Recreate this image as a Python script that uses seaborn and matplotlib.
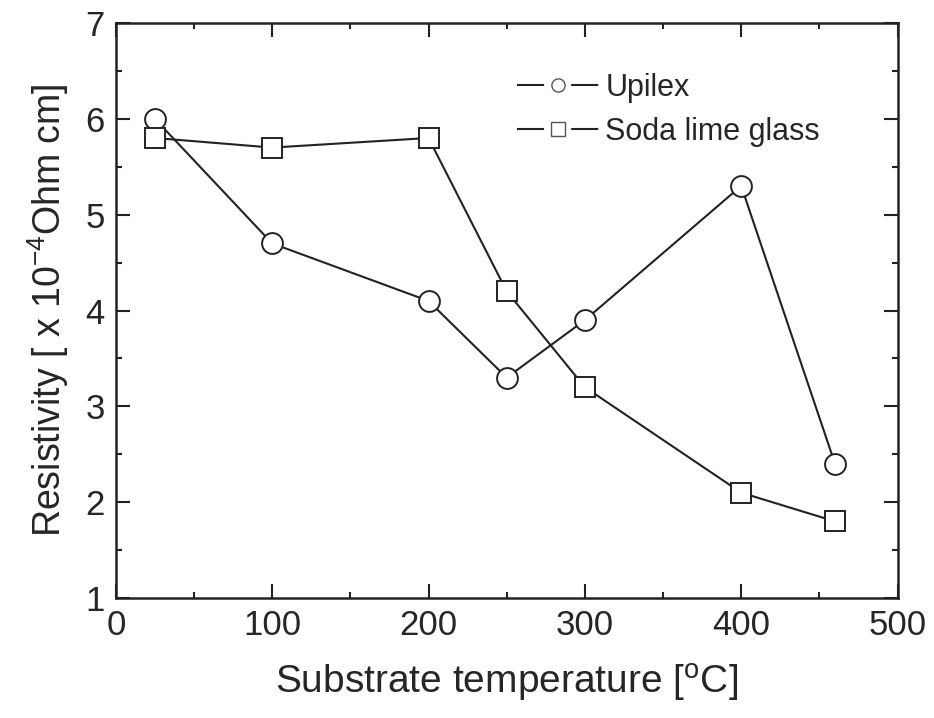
import matplotlib
matplotlib.use("Agg")
import matplotlib.pyplot as plt
from matplotlib.ticker import MultipleLocator
from matplotlib.lines import Line2D
import seaborn as sns
import pandas as pd

temperature = [25, 100, 200, 250, 300, 400, 460]
upilex = [6.0, 4.7, 4.1, 3.3, 3.9, 5.3, 2.4]
soda_lime = [5.8, 5.7, 5.8, 4.2, 3.2, 2.1, 1.8]
series_names = ["Upilex", "Soda lime glass"]

df = pd.concat([
    pd.DataFrame({"T": temperature, "R": upilex, "s": series_names[0]}),
    pd.DataFrame({"T": temperature, "R": soda_lime, "s": series_names[1]}),
])

sns.set_style("ticks")
plt.rcParams['font.family'] = ['Liberation Sans', 'DejaVu Sans']
plt.rcParams['mathtext.fontset'] = 'custom'
plt.rcParams['mathtext.rm'] = 'Liberation Sans'
plt.rcParams['mathtext.it'] = 'Liberation Sans:italic'
plt.rcParams['mathtext.bf'] = 'Liberation Sans:bold'

fig = plt.figure(figsize=(9.34, 7.18), dpi=100)
ax = fig.add_axes([0.124, 0.167, 0.837, 0.801])

sns.lineplot(data=df, x="T", y="R", hue="s", style="s",
             markers={"Upilex": "o", "Soda lime glass": "s"}, dashes=False,
             palette={"Upilex": "#222222", "Soda lime glass": "#222222"},
             markersize=15, markerfacecolor="white", markeredgecolor="#222222",
             markeredgewidth=1.4, linewidth=1.5, ax=ax, legend=False)

for line in ax.lines:
    line.set_markerfacecolor("white")
    line.set_markeredgecolor("#222222")

ax.set_xlim(0, 500)
ax.set_ylim(1, 7)
ax.xaxis.set_major_locator(MultipleLocator(100))
ax.xaxis.set_minor_locator(MultipleLocator(50))
ax.yaxis.set_major_locator(MultipleLocator(1))
ax.yaxis.set_minor_locator(MultipleLocator(0.5))
ax.tick_params(which="both", direction="in", top=True, right=True,
               labelsize=25, width=1.5, color="#222222", pad=8)
ax.tick_params(which="major", length=10)
ax.tick_params(which="minor", length=4)
for sp in ax.spines.values():
    sp.set_linewidth(1.8)
    sp.set_color("#222222")

ax.set_xlabel("Substrate temperature [$^{\\mathrm{o}}$C]", fontsize=28, labelpad=14)
ax.set_ylabel("Resistivity [ x 10$^{\\mathrm{-4}}$Ohm cm]", fontsize=27, labelpad=10)

handles = [
    Line2D([], [], color="#222222", linewidth=1.5, linestyle=(0, (13, 13)),
           marker=m, markersize=9.5, markerfacecolor="white",
           markeredgecolor="#555555", markeredgewidth=1.0)
    for m in ["o", "s"]
]
ax.legend(handles, series_names, loc="upper left", bbox_to_anchor=(0.497, 0.934),
          borderaxespad=0, frameon=False, fontsize=22, handlelength=2.7,
          handletextpad=0.2, labelspacing=0.45)

fig.savefig("out.png", dpi=100)
